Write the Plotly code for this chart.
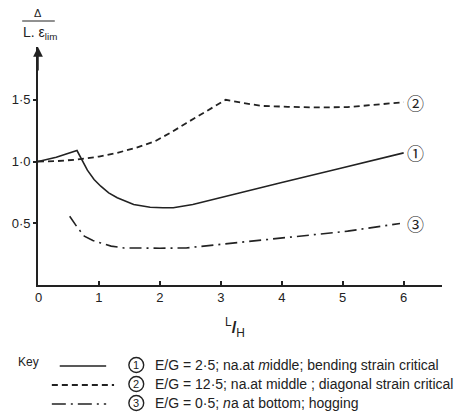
import plotly.graph_objects as go

# ---- data ----
x_curve1 = [0, 0.3, 0.64, 0.70, 0.81, 0.92, 1.03, 1.16, 1.30, 1.57, 1.84, 2.05, 2.22, 2.54, 2.97, 3.51, 4.0, 5.0, 6.0]
y_curve1 = [1.0, 1.035, 1.089, 1.03, 0.93, 0.854, 0.80, 0.746, 0.706, 0.652, 0.63, 0.625, 0.625, 0.652, 0.706, 0.768, 0.83, 0.95, 1.07]

x_curve2 = [0, 0.3, 0.65, 1.0, 1.30, 1.6, 1.92, 2.2, 2.43, 2.76, 3.08, 3.35, 3.67, 4.1, 4.5, 5.08, 5.46, 5.92, 6.0]
y_curve2 = [1.0, 1.003, 1.016, 1.04, 1.07, 1.11, 1.164, 1.24, 1.31, 1.41, 1.50, 1.475, 1.45, 1.443, 1.438, 1.44, 1.456, 1.475, 1.48]

x_curve3 = [0.52, 0.64, 0.76, 0.9, 1.03, 1.2, 1.41, 1.7, 2.0, 2.43, 2.97, 3.51, 3.94, 4.5, 5.08, 5.94]
y_curve3 = [0.557, 0.47, 0.395, 0.36, 0.34, 0.315, 0.30, 0.298, 0.298, 0.30, 0.328, 0.355, 0.376, 0.405, 0.436, 0.498]

x_ticks = [0, 1, 2, 3, 4, 5, 6]
y_ticks = [0.5, 1.0, 1.5]
y_ticktext = ["0·5", "1·0", "1·5"]

curve_labels = ["①", "②", "③"]
key_numbers = ["1", "2", "3"]
key_texts = [
    "E/G = 2·5; na.at <i>m</i>iddle; bending strain critical",
    "E/G = 12·5; na.at middle ; diagonal strain critical",
    "E/G = 0·5; <i>n</i>a at bottom; hogging",
]

# ---- layout geometry ----
W, H = 470, 419
ML, MR, MT, MB = 33, 28, 47, 134
PW, PH = W - ML - MR, H - MT - MB
X_MAX = PW / 61.7
Y_MAX = PH / 123.5

def px(xp):
    return (xp - ML) / PW

def py(yp):
    return (H - MB - yp) / PH

FONT = "Liberation Sans, Arial, sans-serif"
CIRC = "Noto Sans CJK JP, DejaVu Sans, sans-serif"

fig = go.Figure()
fig.add_trace(go.Scatter(x=x_curve1, y=y_curve1, mode="lines",
                         line=dict(color="#222", width=1.6), cliponaxis=False))
fig.add_trace(go.Scatter(x=x_curve2, y=y_curve2, mode="lines",
                         line=dict(color="#222", width=1.8, dash="6px,4px"), cliponaxis=False))
fig.add_trace(go.Scatter(x=x_curve3, y=y_curve3, mode="lines",
                         line=dict(color="#222", width=1.6, dash="12px,5px,2px,5px"), cliponaxis=False))

annotations = []
# curve end labels
for lab, ys in zip(curve_labels, [y_curve1[-1], y_curve2[-1], y_curve3[-1]]):
    annotations.append(dict(x=6.2, y=ys, xref="x", yref="y", text=lab, showarrow=False,
                            font=dict(family=CIRC, size=17, color="#222"),
                            xanchor="center", yanchor="middle"))

# y-axis arrow
annotations.append(dict(x=0, y=Y_MAX, xref="x", yref="y", ax=0, ay=25, text="",
                        showarrow=True, arrowhead=2, arrowsize=1.3, arrowwidth=1.5,
                        arrowcolor="#222"))

# y-axis title (fraction)
annotations.append(dict(x=px(33.5), y=py(13), xref="paper", yref="paper", text="Δ",
                        showarrow=False, font=dict(family=FONT, size=11, color="#222"),
                        xanchor="center", yanchor="middle"))
annotations.append(dict(x=px(16), y=py(33), xref="paper", yref="paper",
                        text="L. ε<sub>lim</sub>", showarrow=False,
                        font=dict(family=FONT, size=14, color="#222"),
                        xanchor="left", yanchor="middle"))

# x-axis title
annotations.append(dict(x=px(232), y=py(327), xref="paper", yref="paper",
                        text="<sup>L</sup><b>/</b><sub>H</sub>", showarrow=False,
                        font=dict(family=FONT, size=17, color="#222"),
                        xanchor="center", yanchor="middle"))

# key
annotations.append(dict(x=px(11), y=py(362), xref="paper", yref="paper", text="Key",
                        showarrow=False, font=dict(family=FONT, size=12, color="#222"),
                        xanchor="left", yanchor="middle"))
row_y = [365, 384, 403]
shapes = [
    # fraction bar
    dict(type="line", xref="paper", yref="paper", x0=px(17), x1=px(50), y0=py(21), y1=py(21),
         line=dict(color="#222", width=1)),
    # key samples
    dict(type="line", xref="paper", yref="paper", x0=px(55), x1=px(102), y0=py(366), y1=py(366),
         line=dict(color="#222", width=1.5)),
    dict(type="line", xref="paper", yref="paper", x0=px(47), x1=px(110), y0=py(385), y1=py(385),
         line=dict(color="#222", width=1.8, dash="6px,4px")),
    dict(type="line", xref="paper", yref="paper", x0=px(47), x1=px(102), y0=py(404), y1=py(404),
         line=dict(color="#222", width=1.5, dash="14px,5px,2px,5px")),
]
for num, txt, yr in zip(key_numbers, key_texts, row_y):
    shapes.append(dict(type="circle", xref="paper", yref="paper",
                       x0=px(125), x1=px(140), y0=py(yr - 7.5), y1=py(yr + 7.5),
                       line=dict(color="#222", width=1.4)))
    annotations.append(dict(x=px(132.5), y=py(yr), xref="paper", yref="paper", text=num,
                            showarrow=False, font=dict(family=FONT, size=11, color="#222"),
                            xanchor="center", yanchor="middle"))
    annotations.append(dict(x=px(149), y=py(yr), xref="paper", yref="paper", text=txt,
                            showarrow=False, font=dict(family=FONT, size=14, color="#222"),
                            xanchor="left", yanchor="middle"))

fig.update_layout(
    width=W, height=H,
    margin=dict(l=ML, r=MR, t=MT, b=MB, pad=0),
    paper_bgcolor="white", plot_bgcolor="white",
    showlegend=False,
    font=dict(family=FONT, size=12, color="#222"),
    annotations=annotations,
    shapes=shapes,
    xaxis=dict(range=[0, X_MAX], tickvals=x_ticks[1:], ticktext=[str(v) for v in x_ticks[1:]],
               ticks="inside", ticklen=4, tickwidth=1.5, tickcolor="#222",
               showline=True, linewidth=1.6, linecolor="#222", showgrid=False, zeroline=False,
               tickfont=dict(family=FONT, size=13, color="#222")),
    yaxis=dict(range=[0, Y_MAX], tickvals=y_ticks, ticktext=y_ticktext,
               ticks="outside", ticklen=3, tickwidth=1.5, tickcolor="#222",
               showline=True, linewidth=1.6, linecolor="#222", showgrid=False, zeroline=False,
               tickfont=dict(family=FONT, size=13, color="#222")),
)
# origin label
fig.add_annotation(x=0, y=0, xref="x", yref="y", text=str(x_ticks[0]), showarrow=False,
                   yshift=-12, font=dict(family=FONT, size=13, color="#222"))

fig.write_html("out.html", config={"displayModeBar": False},
               post_script="document.body.style.margin='0';document.body.style.padding='0';")
